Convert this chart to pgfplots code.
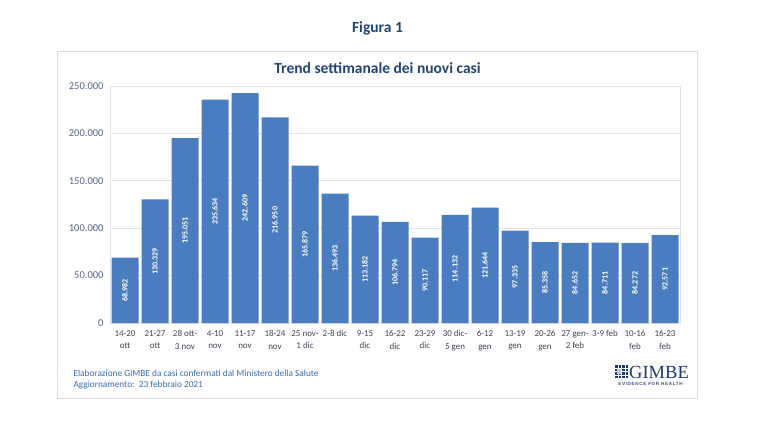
\documentclass[border=0pt]{standalone}
\usepackage{fontspec}
\setmainfont{Carlito}
\newfontfamily\logoserif{Liberation Serif}
\newfontfamily\logosans[LetterSpace=14]{Liberation Sans}
\usepackage{pgfplots}
\usepackage{pgfplotstable}
\pgfplotsset{compat=1.18}

\definecolor{barblue}{HTML}{4A7DBF}
\definecolor{titlenavy}{HTML}{22466F}
\definecolor{ticklab}{HTML}{55688A}
\definecolor{xlab}{HTML}{3F4552}
\definecolor{footblue}{HTML}{3A6DAE}
\definecolor{panelgray}{HTML}{DCDCDC}
\definecolor{gridgray}{HTML}{E3E3E3}
\definecolor{logonavy}{HTML}{1D3C6E}

% Weekly new cases (Italy), 14-20 Oct 2020 to 16-23 Feb 2021
\pgfplotstableread{
idx cases
0   68982
1   130329
2   195051
3   235634
4   242609
5   216950
6   165879
7   136493
8   113182
9   106794
10  90117
11  114132
12  121644
13  97335
14  85358
15  84652
16  84711
17  84272
18  92571
}\weekly

\begin{document}
\begin{tikzpicture}[x=1pt,y=1pt]
  % page and panel
  \useasboundingbox[fill=white] (0,0) rectangle (767,440);
  \draw[panelgray, line width=1pt] (57,42) rectangle (697,388);

  % headings
  \node[font=\fontsize{15.5}{18}\selectfont\bfseries, text=titlenavy] at (377.5,412) {Figura 1};
  \node[font=\fontsize{15.5}{18}\selectfont\bfseries, text=titlenavy] at (377.5,372) {Trend settimanale dei nuovi casi};

  \begin{axis}[
    at={(110pt,117pt)}, anchor=south west,
    scale only axis, width=570pt, height=237pt,
    xmin=-0.5, xmax=18.5, ymin=0, ymax=250000,
    clip=false,
    axis line style={draw=gridgray},
    major tick length=0pt,
    ytick={0,50000,100000,150000,200000,250000},
    ymajorgrids, grid style={gridgray, line width=0.9pt},
    scaled y ticks=false,
    yticklabel style={
      font=\fontsize{10.5}{12}\selectfont, text=ticklab, xshift=-3pt,
      /pgf/number format/.cd, fixed, 1000 sep={.}, assume math mode=true},
    xtick={0,...,18},
    xticklabels={{14-20\\ott},{21-27\\ott},{28 ott-\\3 nov},{4-10\\nov},{11-17\\nov},
      {18-24\\nov},{25 nov-\\1 dic},{2-8 dic},{9-15\\dic},{16-22\\dic},{23-29\\dic},
      {30 dic-\\5 gen},{6-12\\gen},{13-19\\gen},{20-26\\gen},{27 gen-\\2 feb},
      {3-9 feb},{10-16\\feb},{16-23\\feb}},
    xticklabel style={align=center, font=\fontsize{9}{12.5}\selectfont, text=xlab, yshift=-4pt},
  ]
    \addplot[ybar, bar width=0.9, fill=barblue, draw=none]
      table[x=idx, y=cases] {\weekly};
    % value labels, centred in each bar
    \addplot[draw=none, mark=none, point meta=explicit,
      nodes near coords={\pgfmathprintnumber[fixed, 1000 sep={.}, assume math mode=true]{\pgfplotspointmeta}},
      every node near coord/.append style={anchor=center, rotate=90, text=white,
        font=\fontsize{8}{9}\selectfont\bfseries, inner sep=0pt}]
      table[x=idx, y expr=\thisrow{cases}/2, meta=cases] {\weekly};
  \end{axis}

  % source notes
  \node[anchor=base west, font=\fontsize{9.3}{11}\selectfont, text=footblue] at (70,64)
    {Elaborazione GIMBE da casi confermati dal Ministero della Salute};
  \node[anchor=base west, font=\fontsize{9.3}{11}\selectfont, text=footblue] at (70,53)
    {Aggiornamento:\ \ 23 febbraio 2021};

  % GIMBE logo
  \fill[logonavy] (615,62) rectangle (628,75);
  \foreach \g in {1,...,3} {
    \draw[white, line width=0.5pt] (615+3.25*\g,62) -- (615+3.25*\g,75);
    \draw[white, line width=0.5pt] (615,62+3.25*\g) -- (628,62+3.25*\g);
  }
  \fill[white!70!logonavy] (616.5,66.5) rectangle (621,71);
  \node[anchor=base west, inner sep=0pt, font=\fontsize{18.5}{20}\selectfont\logoserif, text=logonavy] at (629,62) {GIMBE};
  \node[anchor=base, inner sep=0pt, font=\fontsize{4.6}{5}\selectfont\logosans\bfseries, text=logonavy!85] at (650.5,54.5) {EVIDENCE FOR HEALTH};
\end{tikzpicture}
\end{document}
